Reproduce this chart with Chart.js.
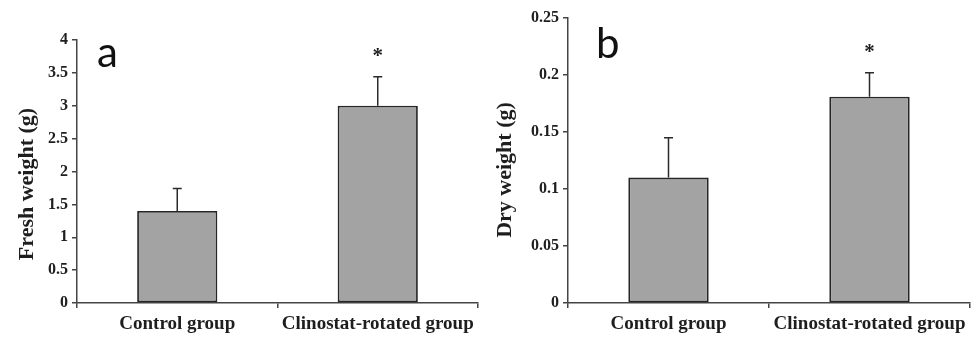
<!DOCTYPE html>
<html>
<head>
<meta charset="utf-8">
<script src="https://cdn.jsdelivr.net/npm/chart.js@4.4.1/dist/chart.umd.min.js"></script>
<style>
  html, body { margin: 0; padding: 0; background: #ffffff; }
  #wrap { position: relative; width: 977px; height: 337px; overflow: hidden; }
  .panel { position: absolute; top: 0; height: 337px; }
  #pa { left: 0; width: 488px; }
  #pb { left: 488px; width: 489px; }
</style>
</head>
<body>
<div id="wrap">
  <div class="panel" id="pa"><canvas id="ca"></canvas></div>
  <div class="panel" id="pb"><canvas id="cb"></canvas></div>
</div>
<script>
// ---- Data ----
const categories = ['Control group', 'Clinostat-rotated group'];

const freshMeans = [1.40, 3.00];
const freshErrors = [0.34, 0.44];
const freshTicks = [0, 0.5, 1, 1.5, 2, 2.5, 3, 3.5, 4];

const dryMeans = [0.110, 0.181];
const dryErrors = [0.035, 0.021];
const dryTicks = [0, 0.05, 0.1, 0.15, 0.2, 0.25];

const significant = [false, true];

// ---- Styles ----
const SERIF = "'Liberation Serif', 'Times New Roman', serif";
const AXIS_COLOR = '#444444';
const TEXT_COLOR = '#1e1e1e';

function makeChart(canvasId, cfg) {
  const errPlugin = {
    id: 'errbars_' + canvasId,
    afterDatasetsDraw(chart) {
      const ctx = chart.ctx;
      const meta = chart.getDatasetMeta(0);
      const y = chart.scales.y;
      ctx.save();
      ctx.strokeStyle = '#2b2b2b';
      ctx.lineWidth = 1.5;
      meta.data.forEach((bar, i) => {
        const x = bar.x;
        const yb = y.getPixelForValue(cfg.means[i]);
        const yt = y.getPixelForValue(cfg.means[i] + cfg.errors[i]);
        ctx.beginPath();
        ctx.moveTo(x, yb);
        ctx.lineTo(x, yt);
        ctx.moveTo(x - 4.5, yt);
        ctx.lineTo(x + 4.5, yt);
        ctx.stroke();
        if (significant[i]) {
          ctx.fillStyle = TEXT_COLOR;
          ctx.font = 'bold 21px ' + SERIF;
          ctx.textAlign = 'center';
          ctx.textBaseline = 'alphabetic';
          ctx.fillText('*', x, yt - 15);
        }
      });
      // panel letter
      ctx.fillStyle = '#111111';
      ctx.font = '42px Lato, "Liberation Sans", sans-serif';
      ctx.textAlign = 'left';
      ctx.textBaseline = 'alphabetic';
      ctx.fillText(cfg.letter, cfg.letterX, cfg.letterY);
      // y title
      ctx.save();
      ctx.translate(cfg.titleX, cfg.titleY);
      ctx.rotate(-Math.PI / 2);
      ctx.font = 'bold 22px ' + SERIF;
      ctx.textAlign = 'center';
      ctx.textBaseline = 'middle';
      ctx.fillStyle = TEXT_COLOR;
      ctx.fillText(cfg.title, 0, 0);
      ctx.restore();
      ctx.restore();
    }
  };

  return new Chart(document.getElementById(canvasId), {
    type: 'bar',
    data: {
      labels: categories,
      datasets: [{
        data: cfg.means,
        backgroundColor: '#a3a3a3',
        borderColor: '#262626',
        borderWidth: 1.8,
        borderSkipped: false,
        barPercentage: 0.5,
        categoryPercentage: 0.8
      }]
    },
    options: {
      responsive: true,
      maintainAspectRatio: false,
      animation: false,
      events: [],
      layout: { padding: { top: cfg.padTop, right: cfg.padRight, left: 0, bottom: 0 } },
      plugins: { legend: { display: false }, tooltip: { enabled: false } },
      scales: {
        x: {
          grid: { drawOnChartArea: false, drawTicks: true, tickLength: 5, color: AXIS_COLOR, lineWidth: 1.5 },
          border: { display: true, color: AXIS_COLOR, width: 1.5 },
          ticks: {
            autoSkip: false, maxRotation: 0, minRotation: 0, padding: 5,
            color: TEXT_COLOR, font: { family: SERIF, size: 19, weight: 'bold' }
          },
          afterFit(s) { s.height = 34; }
        },
        y: {
          min: 0,
          max: cfg.ticks[cfg.ticks.length - 1],
          grid: { drawOnChartArea: false, drawTicks: true, tickLength: 5, color: AXIS_COLOR, lineWidth: 1.5 },
          border: { display: true, color: AXIS_COLOR, width: 1.5 },
          ticks: {
            padding: 4, color: TEXT_COLOR,
            font: { family: SERIF, size: 16, weight: 'bold' },
            callback: (v) => String(v)
          },
          afterBuildTicks(s) { s.ticks = cfg.ticks.map(v => ({ value: v })); },
          afterFit(s) { s.width = cfg.yWidth; }
        }
      }
    },
    plugins: [errPlugin]
  });
}

makeChart('ca', {
  means: freshMeans, errors: freshErrors, ticks: freshTicks,
  letter: 'a', letterX: 97, letterY: 67,
  title: 'Fresh weight (g)', titleX: 27, titleY: 184,
  padTop: 40, padRight: 10, yWidth: 77
});

makeChart('cb', {
  means: dryMeans, errors: dryErrors, ticks: dryTicks,
  letter: 'b', letterX: 108, letterY: 58,
  title: 'Dry weight (g)', titleX: 17, titleY: 170,
  padTop: 18, padRight: 7, yWidth: 80
});
</script>
</body>
</html>
